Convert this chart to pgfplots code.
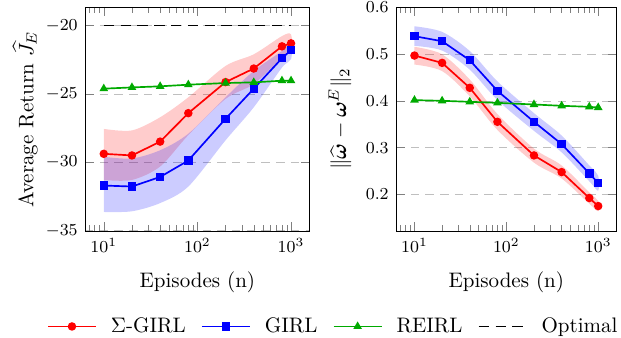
\documentclass[border=0pt]{standalone}
\usepackage{amsmath}
\usepackage{pgfplots}
\pgfplotsset{compat=1.18}
\definecolor{mygreen}{RGB}{0,170,0}
\begin{document}
\begin{tikzpicture}
\path[use as bounding box] (0pt,0pt) rectangle (295.7pt,-160.5pt);
% ---------------- left axis ----------------
\begin{axis}[
  scale only axis,
  height=106.7pt,
  xmode=log,
  xmin=6.31, xmax=1585,
  xtick={10,100,1000},
  minor xtick={7,8,9,20,30,40,50,60,70,80,90,200,300,400,500,600,700,800,900},
  ymajorgrids,
  major grid style={gray!50, dash pattern=on 4pt off 3pt, thin},
  tick label style={font=\footnotesize},
  xlabel={Episodes (n)},
  xlabel style={yshift=-2.5pt},
  ylabel style={yshift=-3pt},
  mark size=1.6pt,
  at={(40.5pt,-3.3pt)}, anchor=north west,
  width=107pt,
  ymin=-35.01, ymax=-18.64,
  ytick={-35,-30,-25,-20},
  ylabel={Average Return $\widehat{J}_E$},
  legend columns=4,
  legend style={draw=none, at={(1.11,-0.426)}, anchor=center,
    font=\normalsize,
    /tikz/every odd column/.append style={column sep=4.8pt},
    /tikz/every even column/.append style={column sep=5.3pt}},
  legend image code/.code={\draw[mark repeat=2,mark phase=2] plot coordinates {(0cm,0cm) (0.4cm,0cm) (0.8cm,0cm)};},
]
\addplot[fill=red, fill opacity=0.2, draw=none, forget plot, smooth] table {
x y
10 -27.55
20 -27.66
40 -26.70
80 -25.24
200 -22.95
400 -22.10
800 -20.77
1000 -20.65
1000 -21.86
800 -22.34
400 -24.27
200 -25.36
80 -28.00
40 -30.30
20 -31.28
10 -31.28
} -- cycle;
\addplot[fill=blue, fill opacity=0.2, draw=none, forget plot, smooth] table {
x y
10 -29.59
20 -29.71
40 -29.11
80 -27.90
200 -25.24
400 -23.31
800 -21.86
1000 -21.26
1000 -22.46
800 -23.07
400 -25.97
200 -28.38
80 -31.76
40 -32.97
20 -33.57
10 -33.62
} -- cycle;
\addplot[red, thick, mark=*] table {
x y
10 -29.37
20 -29.49
40 -28.48
80 -26.40
200 -24.13
400 -23.14
800 -21.52
1000 -21.30
};
\addlegendentry{$\Sigma$-GIRL}
\addplot[blue, thick, mark=square*] table {
x y
10 -31.69
20 -31.76
40 -31.06
80 -29.86
200 -26.81
400 -24.61
800 -22.39
1000 -21.79
};
\addlegendentry{GIRL}
\addplot[mygreen, thick, mark=triangle*] table {
x y
10 -24.61
20 -24.52
40 -24.44
80 -24.32
200 -24.20
400 -24.15
800 -24.03
1000 -24.03
};
\addlegendentry{REIRL}
\addplot[black, dash pattern=on 5pt off 3pt, thick] table {
x y
10 -20
1000 -20
};
\addlegendentry{Optimal}
\end{axis}
% ---------------- right axis ----------------
\begin{axis}[
  scale only axis,
  height=106.7pt,
  xmode=log,
  xmin=6.31, xmax=1585,
  xtick={10,100,1000},
  minor xtick={7,8,9,20,30,40,50,60,70,80,90,200,300,400,500,600,700,800,900},
  ymajorgrids,
  major grid style={gray!50, dash pattern=on 4pt off 3pt, thin},
  tick label style={font=\footnotesize},
  xlabel={Episodes (n)},
  xlabel style={yshift=-2.5pt},
  mark size=1.6pt,
  at={(188.6pt,-3.3pt)}, anchor=north west,
  width=105pt,
  ymin=0.1216, ymax=0.6014,
  ytick={0.2,0.3,0.4,0.5,0.6},
  yticklabels={0.2,0.3,0.4,0.5,0.6},
  ylabel={$\|\widehat{\boldsymbol{\omega}}-\boldsymbol{\omega}^E\|_2$},
]
\addplot[fill=red, fill opacity=0.2, draw=none, forget plot, smooth] table {
x y
10 0.516
20 0.500
40 0.446
80 0.372
200 0.298
400 0.262
800 0.204
1000 0.186
1000 0.164
800 0.180
400 0.234
200 0.268
80 0.338
40 0.410
20 0.464
10 0.478
} -- cycle;
\addplot[fill=blue, fill opacity=0.2, draw=none, forget plot, smooth] table {
x y
10 0.560
20 0.548
40 0.507
80 0.442
200 0.374
400 0.326
800 0.262
1000 0.240
1000 0.208
800 0.228
400 0.290
200 0.336
80 0.402
40 0.467
20 0.508
10 0.518
} -- cycle;
\addplot[red, thick, mark=*] table {
x y
10 0.4973
20 0.4816
40 0.4282
80 0.3554
200 0.2834
400 0.2478
800 0.1922
1000 0.1750
};
\addplot[blue, thick, mark=square*] table {
x y
10 0.5387
20 0.5280
40 0.4873
80 0.4217
200 0.3554
400 0.3077
800 0.2450
1000 0.2243
};
\addplot[mygreen, thick, mark=triangle*] table {
x y
10 0.4018
20 0.4004
40 0.3982
80 0.3960
200 0.3925
400 0.3897
800 0.3875
1000 0.3860
};
\end{axis}
\end{tikzpicture}
\end{document}
